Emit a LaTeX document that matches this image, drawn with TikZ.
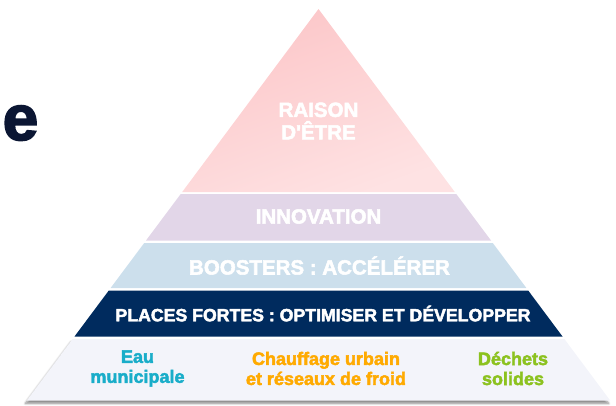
\documentclass[tikz,border=0pt]{standalone}
\usepackage{fontspec}
\setmainfont{Liberation Sans}[Ligatures=TeXOff, BoldFeatures={FakeBold=2.6}]
\usetikzlibrary{shadows.blur}
\definecolor{pinkA}{HTML}{FCC6C8}
\definecolor{pinkB}{HTML}{FEE2E3}
\definecolor{lav}{HTML}{E2D6E8}
\definecolor{lblue}{HTML}{CCDFEC}
\definecolor{navy}{HTML}{002B5E}
\definecolor{base}{HTML}{F3F4FA}
\definecolor{ink}{HTML}{0B1633}
\definecolor{teal}{HTML}{19ADC9}
\definecolor{orng}{HTML}{FFAA00}
\definecolor{lime}{HTML}{8CC21F}
\tikzset{
  toptext/.style={text=white, font=\bfseries\fontsize{20.5}{22.5}\selectfont, align=center, inner sep=0pt},
  basetext/.style={font=\bfseries\fontsize{18}{20}\selectfont, align=center, inner sep=0pt}
}
\begin{document}
\begin{tikzpicture}[x=1pt,y=-1pt]
\useasboundingbox (0,0) rectangle (616,405);
% layers
\shade[shading=axis, top color=pinkA, bottom color=pinkB, shading angle=20]
  (318.5,9) -- (454.8,192) -- (182.2,192) -- cycle;
\fill[lav] (180.7,194) -- (456.3,194) -- (491,240.5) -- (146,240.5) -- cycle;
\fill[lblue] (144.2,243) -- (492.8,243) -- (526.4,288) -- (110.6,288) -- cycle;
\fill[navy] (108.8,290.5) -- (528.2,290.5) -- (562.5,336.5) -- (74.5,336.5) -- cycle;
\fill[base, blur shadow={shadow xshift=-1.5pt, shadow yshift=-3pt, shadow blur steps=6, shadow opacity=45}]
  (72.6,339) -- (564.4,339) -- (610.2,400.5) -- (26.8,400.5) -- cycle;
% texts
\node[toptext] (raison) at (318.5,121) {RAISON\\D'ÊTRE};
\node[toptext] (innov) at (318.5,216.5) {INNOVATION};
\node[toptext] (boost) at (319.5,265.5) {BOOSTERS : ACCÉLÉRER};
\node[toptext, font=\bfseries\fontsize{17.7}{20}\selectfont] (places) at (323,313.5) {PLACES FORTES : OPTIMISER ET DÉVELOPPER};
\node[basetext, text=teal] (eau) at (137.5,368.5) {Eau\\municipale};
\node[basetext, text=orng] (chauf) at (326,368.5) {Chauffage urbain\\et réseaux de froid};
\node[basetext, text=lime] (dechets) at (513,368.5) {Déchets\\solides};
\node[anchor=base east, inner sep=0pt, text=ink, font=\bfseries\fontsize{64}{64}\selectfont] (e) at (38.5,140) {e};
\end{tikzpicture}
\end{document}
